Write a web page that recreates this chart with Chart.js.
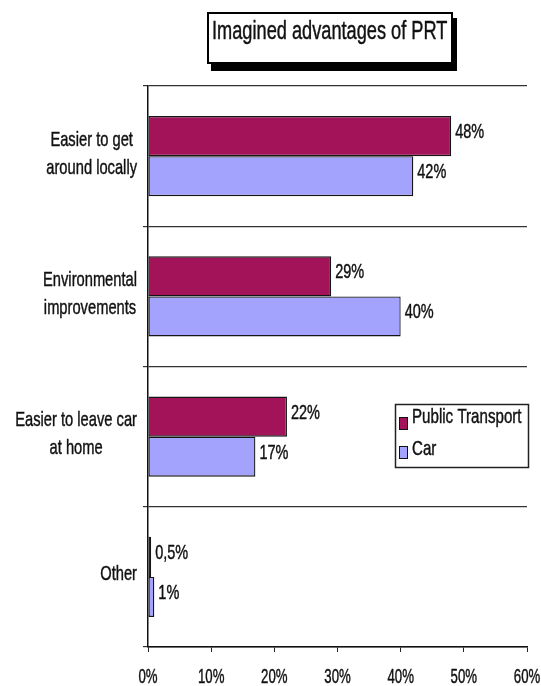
<!DOCTYPE html>
<html>
<head>
<meta charset="utf-8">
<script src="https://cdn.jsdelivr.net/npm/chart.js@4/dist/chart.umd.min.js"></script>
<style>
  html, body { margin: 0; padding: 0; background: #fff; }
  #wrap { width: 541px; height: 686px; }
</style>
</head>
<body>
<div id="wrap"><canvas id="prtChart" width="541" height="686"></canvas></div>
<script>
// survey answers, percent of respondents
const categories = [
  ['Easier to get', 'around locally'],
  ['Environmental', 'improvements'],
  ['Easier to leave car', 'at home'],
  ['Other']
];
const seriesNames = ['Public Transport', 'Car'];
const publicTransport = [48, 29, 22, 0.5];
const car = [42, 40, 17, 1];
const xMin = 0, xMax = 60, xStep = 10;
const chartTitle = 'Imagined advantages of PRT';

const FONT = '"Liberation Sans", Arial, sans-serif';
const INK = '#111';

// narrow text: normal font squeezed horizontally, slightly heavier stroke
function narrowText(ctx, str, x, y, size, align, squeeze) {
  ctx.save();
  ctx.font = size + 'px ' + FONT;
  ctx.fillStyle = INK;
  ctx.strokeStyle = INK;
  ctx.lineWidth = 0.45;
  ctx.textBaseline = 'alphabetic';
  const w = ctx.measureText(str).width * squeeze;
  let left = x;
  if (align === 'center') left = x - w / 2;
  if (align === 'right') left = x - w;
  ctx.translate(left, y);
  ctx.scale(squeeze, 1);
  ctx.textAlign = 'left';
  ctx.fillText(str, 0, 0);
  ctx.strokeText(str, 0, 0);
  ctx.restore();
  return w;
}
function narrowWidth(ctx, str, size, squeeze) {
  ctx.save();
  ctx.font = size + 'px ' + FONT;
  const w = ctx.measureText(str).width * squeeze;
  ctx.restore();
  return w;
}

const pctText = v => String(v).replace('.', ',') + '%';

const textPlugin = {
  id: 'textPlugin',
  afterDraw(chart) {
    const ctx = chart.ctx;
    const xs = chart.scales.x;
    const ys = chart.scales.y;

    // title box with drop shadow
    ctx.save();
    ctx.fillStyle = '#000';
    ctx.fillRect(211, 18, 246, 53);
    ctx.fillStyle = '#fff';
    ctx.fillRect(207, 12, 246, 52);
    ctx.strokeStyle = '#000';
    ctx.lineWidth = 2;
    ctx.strokeRect(208, 13, 244, 50);
    ctx.restore();
    narrowText(ctx, chartTitle, 212, 39, 26, 'left', 0.7);

    // category labels, lines centred within a right-aligned block
    categories.forEach((lines, i) => {
      const cy = ys.getPixelForValue(i);
      const size = 21, sq = 0.7, lh = 28;
      const blockW = Math.max(...lines.map(s => narrowWidth(ctx, s, size, sq)));
      const cx = 137 - blockW / 2;
      const first = cy - 4 + 7.5 - (lines.length - 1) * lh / 2;
      lines.forEach((s, k) => narrowText(ctx, s, cx, first + k * lh, size, 'center', sq));
    });

    // value labels at bar ends
    chart.data.datasets.forEach((ds, d) => {
      chart.getDatasetMeta(d).data.forEach((bar, i) => {
        narrowText(ctx, pctText(ds.data[i]), bar.x + 4, bar.y + 2, 21, 'left', 0.69);
      });
    });

    // x tick labels
    xs.ticks.forEach(t => {
      narrowText(ctx, t.value + '%', xs.getPixelForValue(t.value), 683, 20, 'center', 0.66);
    });

    // legend box
    ctx.save();
    ctx.fillStyle = '#fff';
    ctx.fillRect(395, 404, 134, 64);
    ctx.strokeStyle = '#222';
    ctx.lineWidth = 1.5;
    ctx.strokeRect(395.5, 404.5, 133, 63);
    const rows = [{ sy: 417, ty: 423 }, { sy: 446, ty: 455 }];
    chart.data.datasets.forEach((ds, d) => {
      const r = rows[d];
      ctx.fillStyle = ds.backgroundColor;
      ctx.fillRect(399, r.sy, 9, 13);
      ctx.strokeStyle = '#111';
      ctx.lineWidth = 1;
      ctx.strokeRect(399.5, r.sy + 0.5, 8, 12);
      narrowText(ctx, ds.label, 412, r.ty, 21, 'left', 0.72);
    });
    ctx.restore();
  }
};

new Chart(document.getElementById('prtChart'), {
  type: 'bar',
  data: {
    labels: categories,
    datasets: [
      {
        label: seriesNames[0],
        data: publicTransport,
        backgroundColor: '#A3135A',
        borderColor: '#151515',
        borderWidth: 1.3,
        borderSkipped: false
      },
      {
        label: seriesNames[1],
        data: car,
        backgroundColor: '#A3A3FD',
        borderColor: '#151515',
        borderWidth: 1.3,
        borderSkipped: false
      }
    ]
  },
  options: {
    indexAxis: 'y',
    responsive: false,
    animation: false,
    categoryPercentage: 0.571,
    barPercentage: 1.0,
    layout: { padding: { top: 86, right: 14, left: 0, bottom: 0 } },
    plugins: {
      legend: { display: false },
      tooltip: { enabled: false },
      title: { display: false }
    },
    scales: {
      x: {
        min: xMin,
        max: xMax,
        ticks: { stepSize: xStep, display: false },
        grid: { drawOnChartArea: false, drawTicks: true, tickLength: 5, color: '#222' },
        border: { color: '#111', width: 1.5 },
        afterFit(s) { s.height = 39; }
      },
      y: {
        ticks: { display: false },
        grid: { color: '#333', lineWidth: 1.2, tickLength: 5, offset: true },
        border: { color: '#111', width: 1.5 },
        afterFit(s) { s.width = 148; }
      }
    }
  },
  plugins: [textPlugin]
});
</script>
</body>
</html>
